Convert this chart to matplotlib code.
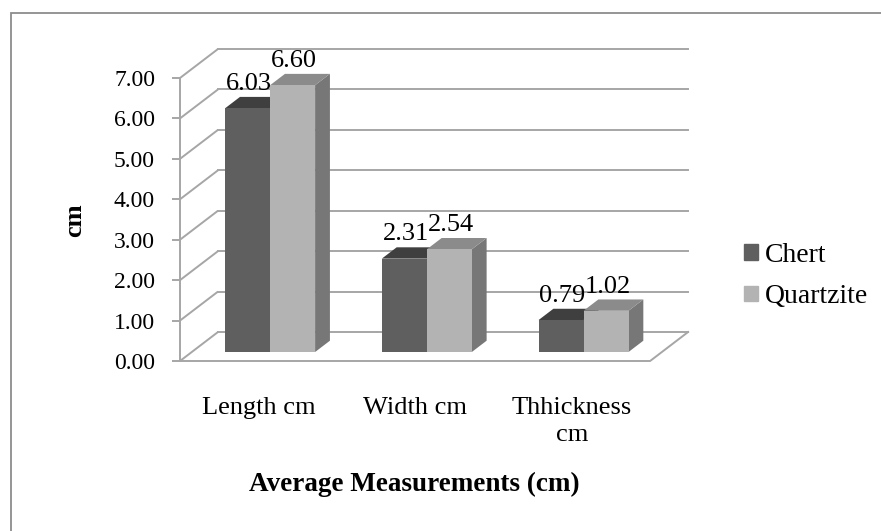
import matplotlib.pyplot as plt
from matplotlib.patches import Polygon, Rectangle, Patch

plt.rcParams['font.family'] = ['Liberation Serif', 'DejaVu Serif']

# data
categories = ['Length cm', 'Width cm', 'Thhickness\ncm']
series_names = ['Chert', 'Quartzite']
chert = [6.03, 2.31, 0.79]
quartzite = [6.60, 2.54, 1.02]
yticks = [0, 1, 2, 3, 4, 5, 6, 7]
ytick_labels = ['%.2f' % t for t in yticks]

# colours (front, top, side)
front_cols = ['#5f5f5f', '#b3b3b3']
top_cols = ['#3f3f3f', '#8b8b8b']
side_cols = ['#4a4a4a', '#777777']
grid_col = '#a6a6a6'

# pseudo-3d layout (pixels of the 881x531 picture)
W, H = 881, 531
CAT_PX = 156.7     # one category on the front plane
VAL_PX = 40.43     # one unit of value
X0_PX, Y0_PX = 180, 361   # front corner of the value axis
DX = 38 / CAT_PX   # depth vector in data units
DY = 29 / VAL_PX
BW = 0.287         # bar width (category units)
D0, D1 = 0.31, 0.70  # bar depth range (fraction of wall depth)

fig = plt.figure(figsize=(W / 100, H / 100), dpi=100)
ax = fig.add_axes([0, 0, 1, 1])
ax.set_xlim(-X0_PX / CAT_PX, (W - X0_PX) / CAT_PX)
ax.set_ylim(-(H - Y0_PX) / VAL_PX, Y0_PX / VAL_PX)
ax.patch.set_visible(False)
ncat = len(categories)

# walls: left wall diagonals and back wall gridlines
for t in yticks:
    ax.plot([0, DX], [t, t + DY], color=grid_col, lw=1.4, zorder=1, solid_capstyle='butt')
    ax.plot([DX, ncat + DX], [t + DY, t + DY], color=grid_col, lw=1.4, zorder=1)
# floor
ax.plot([0, ncat, ncat + DX], [0, 0, DY], color=grid_col, lw=1.4, zorder=1)


def draw_bar(x0, v, k):
    ox0, oy0 = D0 * DX, D0 * DY
    ox1, oy1 = D1 * DX, D1 * DY
    x1 = x0 + BW
    side = [(x1 + ox0, oy0), (x1 + ox0, v + oy0), (x1 + ox1, v + oy1), (x1 + ox1, oy1)]
    top = [(x0 + ox0, v + oy0), (x1 + ox0, v + oy0), (x1 + ox1, v + oy1), (x0 + ox1, v + oy1)]
    ax.add_patch(Polygon(side, closed=True, fc=side_cols[k], ec='none', zorder=3))
    ax.add_patch(Polygon(top, closed=True, fc=top_cols[k], ec='none', zorder=3))
    ax.add_patch(Rectangle((x0 + ox0, oy0), BW, v, fc=front_cols[k], ec='none', zorder=4))
    ax.annotate('%.2f' % v, xy=(x0 + BW / 2 + ox0, v + oy1), xytext=(1, 5),
                textcoords='offset points', ha='center', va='baseline',
                fontsize=19, color='black', zorder=6)


for i in range(ncat):
    c = i + 0.5
    draw_bar(c - BW, chert[i], 0)
    draw_bar(c, quartzite[i], 1)

# value axis on the front corner
for s in ['top', 'right']:
    ax.spines[s].set_visible(False)
ax.spines['left'].set_position(('data', 0))
ax.spines['left'].set_bounds(0, 7)
ax.spines['left'].set_color(grid_col)
ax.spines['left'].set_linewidth(1.4)
ax.set_yticks(yticks)
ax.set_yticklabels(ytick_labels)
ax.tick_params(axis='y', length=6, width=1.4, color=grid_col, pad=12, labelsize=17)

ax.spines['bottom'].set_position(('data', 0))
ax.spines['bottom'].set_visible(False)
ax.set_xticks([i + 0.5 for i in range(ncat)])
ax.set_xticklabels(categories, fontsize=19, linespacing=1.3)
ax.tick_params(axis='x', length=0, pad=26)

fig.text(414 / W, 1 - 484 / H, 'Average Measurements (cm)', ha='center', va='center',
         fontsize=19.5, fontweight='bold')
fig.text(75 / W, 1 - 220 / H, 'cm', ha='center', va='center', rotation=90,
         fontsize=19, fontweight='bold')

handles = [Patch(color=front_cols[k]) for k in range(2)]
fig.legend(handles, series_names, loc='center left', bbox_to_anchor=(744 / W, 1 - 276 / H),
           frameon=False, fontsize=20, handlelength=0.5, handleheight=0.5,
           handletextpad=0.25, labelspacing=0.6, borderaxespad=0, borderpad=0)

# chart border
fig.add_artist(Rectangle((11 / W, -0.1), 1.2, 1.1 - 13 / H, transform=fig.transFigure,
                         fill=False, ec='#8c8c8c', lw=1.3))

plt.savefig('out.png', dpi=100)
